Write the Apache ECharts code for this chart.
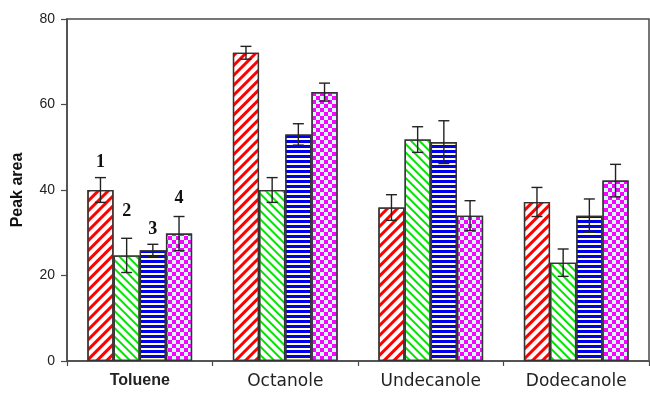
<!DOCTYPE html>
<html>
<head>
<meta charset="utf-8">
<script src="https://cdn.jsdelivr.net/npm/echarts@6/dist/echarts.min.js"></script>
<style>
  html, body { margin: 0; padding: 0; background: #fff; }
  #chart { width: 650px; height: 399px; }
</style>
</head>
<body>
<div id="chart"></div>
<script>
// data
const categories = ['Toluene', 'Octanole', 'Undecanole', 'Dodecanole'];
const seriesNames = ['1', '2', '3', '4'];
const peakArea = [
  [40.0, 72.1, 35.9, 37.2],
  [24.7, 40.0, 51.8, 23.0],
  [25.9, 53.0, 51.2, 34.0],
  [29.8, 62.9, 34.0, 42.2]
];
const peakErr = [
  [2.9, 1.5, 3.0, 3.4],
  [4.0, 2.9, 3.0, 3.2],
  [1.4, 2.5, 5.0, 3.9],
  [4.0, 2.1, 3.5, 3.8]
];
// where the series numbers sit over the Toluene bars (baseline, in data units)
const numberLabelY = [44.3, 33.0, 28.8, 36.0];
const yTicks = { min: 0, max: 80, interval: 20 };

const GAP = 0.28;
const lineColor = '#4a4a4a';

const decals = [
  { symbol: 'rect', color: '#ff0000', dashArrayX: [1, 0], dashArrayY: [2.5, 3.2], rotation: -Math.PI / 4 },
  { symbol: 'rect', color: '#00e600', dashArrayX: [1, 0], dashArrayY: [2, 3.5], rotation: Math.PI / 4 },
  { symbol: 'rect', color: '#0000ee', dashArrayX: [1, 0], dashArrayY: [3, 1.5], rotation: 0 },
  { symbol: 'rect', color: '#ff00ff', dashArrayX: [[3.5, 3.5], [0, 3.5, 3.5, 0]], dashArrayY: [3.5, 0], rotation: 0 }
];
const fills = ['#ffffff', '#ffffff', '#ffffcc', '#ccffff'];

const barSeries = peakArea.map((vals, i) => ({
  type: 'bar',
  name: seriesNames[i],
  data: vals,
  barGap: '0%',
  barCategoryGap: (GAP * 100) + '%',
  itemStyle: { color: fills[i], borderColor: '#333', borderWidth: 1.3, decal: decals[i] },
  silent: true
}));

const errData = [];
peakArea.forEach((vals, s) => {
  vals.forEach((v, c) => errData.push([c, v, peakErr[s][c], s]));
});

const numberData = numberLabelY.map((y, s) => [0, y, s]);

function barX(api, cat, s) {
  const catW = api.size([1, 0])[0];
  const barW = catW * (1 - GAP) / 4;
  return api.coord([cat, 0])[0] + (s - 1.5) * barW;
}

const errSeries = {
  type: 'custom',
  data: errData,
  encode: { x: 0, y: 1 },
  z: 5,
  silent: true,
  renderItem(params, api) {
    const cat = api.value(0), v = api.value(1), e = api.value(2), s = api.value(3);
    const x = barX(api, cat, s);
    const hi = api.coord([cat, v + e])[1];
    const lo = api.coord([cat, v - e])[1];
    const cap = 5.5;
    const style = { stroke: '#222', lineWidth: 1.4 };
    return {
      type: 'group',
      children: [
        { type: 'line', shape: { x1: x, y1: hi, x2: x, y2: lo }, style },
        { type: 'line', shape: { x1: x - cap, y1: hi, x2: x + cap, y2: hi }, style },
        { type: 'line', shape: { x1: x - cap, y1: lo, x2: x + cap, y2: lo }, style }
      ]
    };
  }
};

const numberSeries = {
  type: 'custom',
  data: numberData,
  encode: { x: 0, y: 1 },
  z: 6,
  silent: true,
  renderItem(params, api) {
    const cat = api.value(0), y = api.value(1), s = api.value(2);
    return {
      type: 'text',
      x: barX(api, cat, s),
      y: api.coord([cat, y])[1],
      style: {
        text: seriesNames[s],
        fill: '#111',
        font: 'bold 18px "Liberation Serif"',
        textAlign: 'center',
        textVerticalAlign: 'bottom'
      }
    };
  }
};

const chart = echarts.init(document.getElementById('chart'), null, { renderer: 'canvas' });
chart.setOption({
  animation: false,
  backgroundColor: '#ffffff',
  grid: {
    left: 67, right: 1, top: 19, bottom: 38,
    show: true, borderColor: lineColor, borderWidth: 1.5, backgroundColor: 'transparent'
  },
  xAxis: {
    type: 'category',
    data: categories.map((c, i) => i === 0
      ? { value: c, textStyle: { fontFamily: 'Liberation Sans', fontWeight: 'bold', fontSize: 16 } }
      : c),
    axisLine: { lineStyle: { color: lineColor, width: 1.5 } },
    axisTick: { show: true, length: 5, lineStyle: { color: lineColor, width: 1.2 } },
    axisLabel: { fontFamily: 'DejaVu Sans', fontSize: 17, color: '#222', margin: 12 }
  },
  yAxis: {
    type: 'value',
    min: yTicks.min, max: yTicks.max, interval: yTicks.interval,
    name: 'Peak area',
    nameLocation: 'middle',
    nameGap: 41,
    nameTextStyle: { fontFamily: 'Liberation Sans', fontWeight: 'bold', fontSize: 16, color: '#111' },
    axisLine: { show: true, lineStyle: { color: lineColor, width: 1.5 } },
    axisTick: { show: true, length: 6, lineStyle: { color: lineColor, width: 1.2 } },
    axisLabel: { fontFamily: 'Liberation Sans', fontSize: 14, color: '#222', margin: 12 },
    splitLine: { show: false }
  },
  series: [...barSeries, errSeries, numberSeries]
});
</script>
</body>
</html>
